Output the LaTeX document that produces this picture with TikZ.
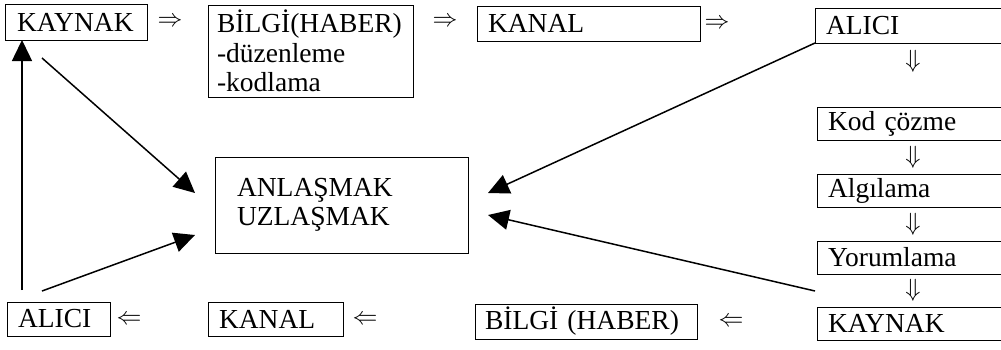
\documentclass[tikz,border=0pt]{standalone}
\usepackage{fontspec}
\setmainfont{Liberation Serif}
\usetikzlibrary{arrows.meta}
\newcommand\fsz{\fontsize{27.5}{29.5}\selectfont}
\begin{document}
\begin{tikzpicture}[x=1pt,y=-1pt,
  box/.style={draw, line width=1pt, anchor=north west, inner xsep=11pt, inner ysep=0pt,
              align=left, font=\fsz, outer sep=0pt},
  sym/.style={inner sep=0pt, font=\fontsize{24.88}{24.88}\selectfont},
  conn/.style={line width=1.5pt, -{Triangle[length=21pt,width=20pt]}}]
\useasboundingbox (0,0) rectangle (1001,349);
% top row
\node[box, inner xsep=12pt, text width=118pt, minimum height=36pt] (k1) at (5,4) {KAYNAK};
\node[box, inner xsep=9pt, text width=187pt, minimum height=92pt] (b1) at (208,5) {BİLGİ(HABER)\\-düzenleme\\-kodlama};
\node[box, text width=201pt, minimum height=35pt] (kn1) at (477,6) {KANAL};
\node[box, text width=165pt, minimum height=35pt] (a1) at (815,8) {ALICI};
% right column
\node[box, text width=163pt, minimum height=33pt] (kc) at (817,107) {Kod çözme};
\node[box, text width=163pt, minimum height=33pt] (al) at (817,174) {Algılama};
\node[box, text width=163pt, minimum height=33pt] (yo) at (817,241) {Yorumlama};
\node[box, text width=163pt, minimum height=33pt] (k2) at (817,307) {KAYNAK};
% bottom row
\node[box, text width=81pt, minimum height=34pt] (a2) at (7,302) {ALICI};
\node[box, text width=113pt, minimum height=34pt] (kn2) at (208,302) {KANAL};
\node[box, inner xsep=10pt, text width=202pt, minimum height=35pt] (b2) at (475,304) {BİLGİ (HABER)};
% centre
\node[box, inner xsep=22pt, text width=209pt, minimum height=96pt] (c) at (215,157) {ANLAŞMAK\\UZLAŞMAK};
% double arrow symbols
\node[sym] (r1) at (170,22) {$\Rightarrow$};
\node[sym] (r2) at (445,22) {$\Rightarrow$};
\node[sym] (r3) at (717,24) {$\Rightarrow$};
\node[sym] (d1) at (913,61) {$\Downarrow$};
\node[sym] (d2) at (913,157) {$\Downarrow$};
\node[sym] (d3) at (913,224) {$\Downarrow$};
\node[sym] (d4) at (913,290) {$\Downarrow$};
\node[sym] (l1) at (129,320) {$\Leftarrow$};
\node[sym] (l2) at (365,320) {$\Leftarrow$};
\node[sym] (l3) at (731,322) {$\Leftarrow$};
% connector ends
\coordinate (s1) at (42,58);
\coordinate (t1) at (195,193);
\coordinate (s2) at (22,290);
\coordinate (s3) at (42,291);
\coordinate (t3) at (195,235);
\coordinate (t4) at (488,193);
\coordinate (s5) at (815,291);
\coordinate (t5) at (488,215);
% connectors
\draw[conn] (s1) -- (t1);
\draw[conn] (s2) -- ([xshift=17pt]k1.south west);
\draw[conn] (s3) -- (t3);
\draw[conn] (a1.south west) -- (t4);
\draw[conn] (s5) -- (t5);
\end{tikzpicture}
\end{document}
